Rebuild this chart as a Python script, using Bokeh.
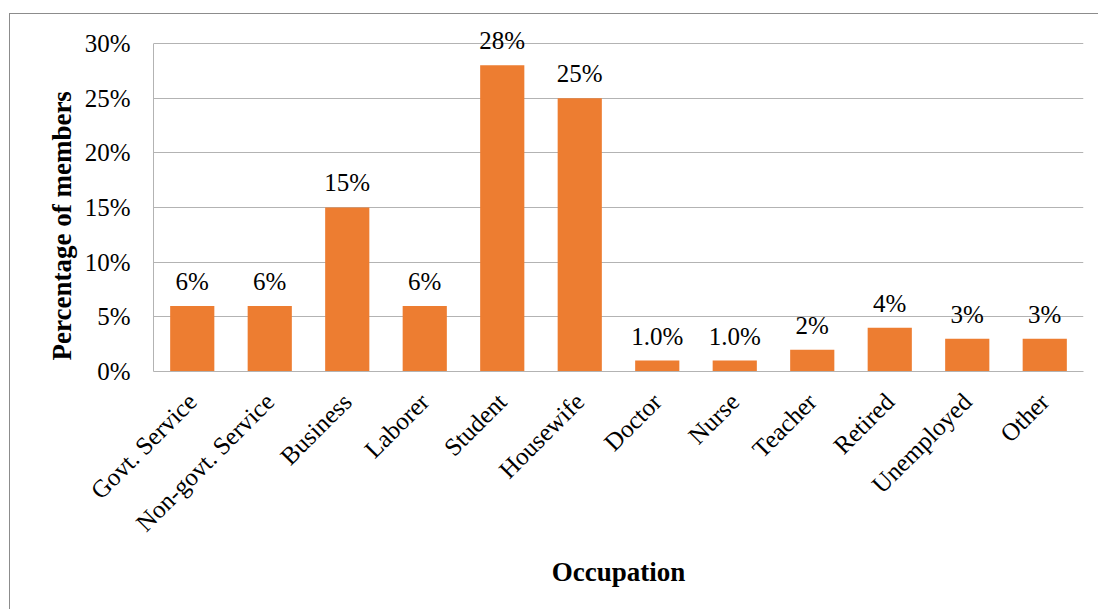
from bokeh.plotting import figure
from bokeh.models import ColumnDataSource, LabelSet, NumeralTickFormatter, FixedTicker, Title
from bokeh.core.properties import value
from bokeh.embed import file_html
from bokeh.resources import INLINE
import math

categories = ["Govt. Service", "Non-govt. Service", "Business", "Laborer", "Student",
              "Housewife", "Doctor", "Nurse", "Teacher", "Retired", "Unemployed", "Other"]
values = [0.06, 0.06, 0.15, 0.06, 0.28, 0.25, 0.01, 0.01, 0.02, 0.04, 0.03, 0.03]
labels = ["6%", "6%", "15%", "6%", "28%", "25%", "1.0%", "1.0%", "2%", "4%", "3%", "3%"]
y_ticks = [0, 0.05, 0.10, 0.15, 0.20, 0.25, 0.30]

FONT = "Liberation Serif"
ORANGE = "#ED7D31"
GRID = "#B3B3B3"

src = ColumnDataSource(dict(cat=categories, val=values, lab=labels))

p = figure(x_range=categories, y_range=(0, 0.3146), width=1089, height=596,
           output_backend="svg", toolbar_location=None,
           min_border_left=144, min_border_top=14, min_border_right=15, min_border_bottom=238)
p.margin = (13, 0, 0, 9)
p.styles = {"box-shadow": "inset 1px 1px 0 #8C8C8C", "background-color": "white"}
p.border_fill_color = None
p.outline_line_color = None
p.background_fill_color = "white"

p.vbar(x="cat", top="val", width=0.57, source=src, fill_color=ORANGE, line_color=None)

p.add_layout(LabelSet(x="cat", y="val", text="lab", source=src, y_offset=16,
                      text_align="center", text_baseline="alphabetic",
                      text_font=value(FONT), text_font_size="25px", text_color="black"))

p.yaxis.ticker = FixedTicker(ticks=y_ticks)
p.yaxis.formatter = NumeralTickFormatter(format="0%")
p.yaxis.bounds = (0, 0.30)
p.ygrid.grid_line_color = GRID
p.ygrid.grid_line_width = 1
p.xgrid.grid_line_color = None

for ax in (p.xaxis, p.yaxis):
    ax.axis_line_color = GRID
    ax.major_tick_line_color = None
    ax.minor_tick_line_color = None
    ax.major_label_text_font = FONT
    ax.major_label_text_font_size = "25px"
    ax.major_label_text_color = "black"
    ax.axis_label_text_font = FONT
    ax.axis_label_text_font_size = "27px"
    ax.axis_label_text_font_style = "bold"
    ax.axis_label_text_color = "black"

p.yaxis.major_label_standoff = 17
ytitle = Title(text="Percentage of members", align="left", offset=11, standoff=10,
               text_font=FONT, text_font_size="27px", text_font_style="bold",
               text_color="black")
p.add_layout(ytitle, "left")

p.xaxis.axis_label = "Occupation"
p.xaxis.major_label_orientation = math.pi / 4
p.xaxis.major_label_standoff = 20
p.xaxis.axis_label_standoff = 8

open("out.html", "w").write(file_html(p, INLINE))
